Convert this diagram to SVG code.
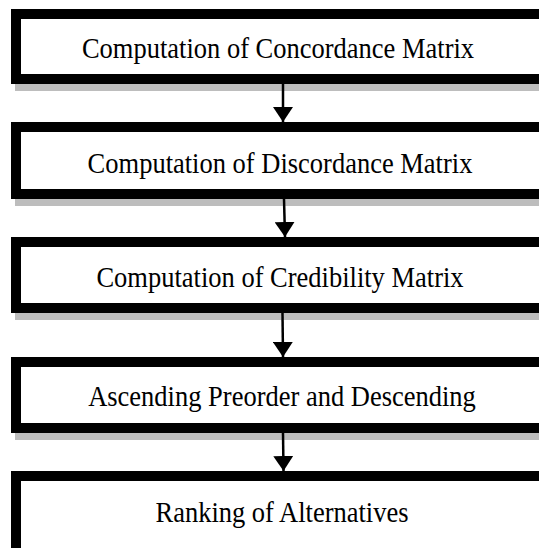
<svg xmlns="http://www.w3.org/2000/svg" width="539" height="548" viewBox="0 0 539 548">
<style>
.box{fill:#fff;stroke:#000;stroke-width:10}
.shadow{fill:#bdbdbd}
.lbl{font-family:"Liberation Serif","Times New Roman",serif;font-size:26.5px;fill:#000;text-anchor:middle}
.conn{stroke:#000;stroke-width:2.5;fill:none}
</style>
<defs>
<marker id="ah" markerUnits="userSpaceOnUse" viewBox="0 -10 15 20" refX="15" refY="0" markerWidth="15" markerHeight="20" orient="auto">
<path d="M0,-10 L15,0 L0,10 z" fill="#000"/>
</marker>
</defs>
<rect width="539" height="548" fill="#fff"/>
<g id="node1">
<rect class="shadow" x="15" y="80" width="530" height="11"/>
<rect class="box" x="16" y="14" width="530" height="65"/>
<text class="lbl" transform="translate(278,58) scale(1,1.12)">Computation of Concordance Matrix</text>
</g>
<g id="node2">
<rect class="shadow" x="15" y="195" width="530" height="11"/>
<rect class="box" x="16" y="127" width="530" height="67"/>
<text class="lbl" transform="translate(280,173) scale(1,1.12)">Computation of Discordance Matrix</text>
</g>
<g id="node3">
<rect class="shadow" x="15" y="309" width="530" height="11"/>
<rect class="box" x="16" y="242" width="530" height="66"/>
<text class="lbl" transform="translate(280,287) scale(1,1.12)">Computation of Credibility Matrix</text>
</g>
<g id="node4">
<rect class="shadow" x="15" y="429" width="530" height="11"/>
<rect class="box" x="16" y="362" width="530" height="66"/>
<text class="lbl" transform="translate(282,406) scale(1,1.12)">Ascending Preorder and Descending</text>
</g>
<g id="node5">
<rect class="box" x="16" y="476" width="530" height="80"/>
<text class="lbl" transform="translate(282,522) scale(1,1.12)">Ranking of Alternatives</text>
</g>
<g id="connectors">
<line class="conn" x1="283" y1="84" x2="283" y2="122" marker-end="url(#ah)"/>
<line class="conn" x1="284" y1="199" x2="285" y2="237" marker-end="url(#ah)"/>
<line class="conn" x1="282.5" y1="313" x2="283" y2="357" marker-end="url(#ah)"/>
<line class="conn" x1="283" y1="433" x2="283.5" y2="471" marker-end="url(#ah)"/>
</g>
</svg>
